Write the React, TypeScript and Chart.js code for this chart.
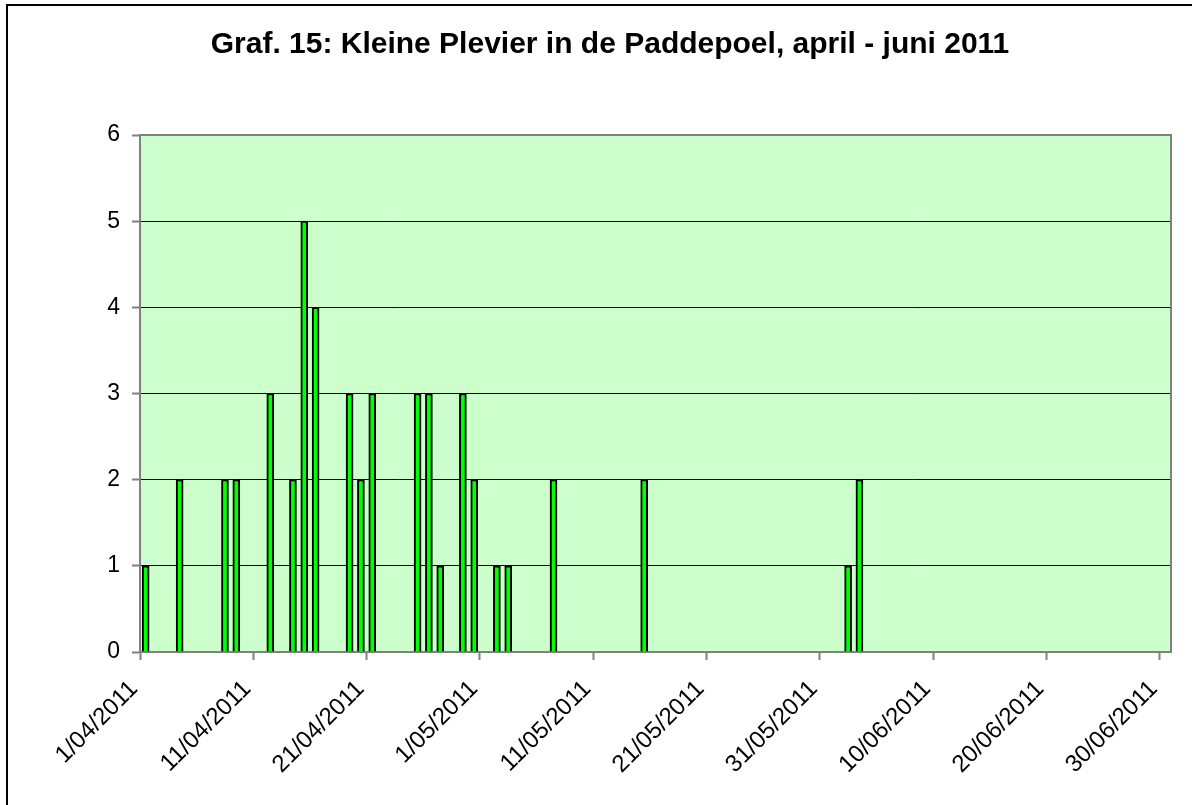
import React, { useEffect, useRef } from 'react';
import { Chart, registerables } from 'chart.js';

Chart.register(...registerables);

const TITLE = 'Graf. 15: Kleine Plevier in de Paddepoel, april - juni 2011';
const AXIS_START = '2011-04-01';
const AXIS_END = '2011-07-01';

const obsDates = [
  '2011-04-01', '2011-04-04', '2011-04-08', '2011-04-09', '2011-04-12',
  '2011-04-14', '2011-04-15', '2011-04-16', '2011-04-19', '2011-04-20',
  '2011-04-21', '2011-04-25', '2011-04-26', '2011-04-27', '2011-04-29',
  '2011-04-30', '2011-05-02', '2011-05-03', '2011-05-07', '2011-05-15',
  '2011-06-02', '2011-06-03',
];
const counts = [1, 2, 2, 2, 3, 2, 5, 4, 3, 2, 3, 3, 3, 1, 3, 2, 1, 1, 2, 2, 1, 2];

const tickLabels = [
  '1/04/2011', '11/04/2011', '21/04/2011', '1/05/2011', '11/05/2011',
  '21/05/2011', '31/05/2011', '10/06/2011', '20/06/2011', '30/06/2011',
];
const yTicks = [0, 1, 2, 3, 4, 5, 6];

const FONT = '"Liberation Sans", Arial, sans-serif';
const DAY = 86400000;

function isoToUTC(s: string) {
  const [y, m, d] = s.split('-').map(Number);
  return Date.UTC(y, m - 1, d);
}
function labelToUTC(s: string) {
  const [d, m, y] = s.split('/').map(Number);
  return Date.UTC(y, m - 1, d);
}
const t0 = isoToUTC(AXIS_START);
const dayOfIso = (s: string) => Math.round((isoToUTC(s) - t0) / DAY);
const dayOfLabel = (s: string) => Math.round((labelToUTC(s) - t0) / DAY);

const bgPlugin = {
  id: 'plotBg',
  beforeDraw(chart: any) {
    const { ctx, chartArea: a } = chart;
    ctx.save();
    ctx.fillStyle = '#CCFFCC';
    ctx.fillRect(a.left, a.top, a.right - a.left, a.bottom - a.top);
    ctx.restore();
  },
  beforeDatasetsDraw(chart: any) {
    const { ctx, chartArea: a } = chart;
    ctx.save();
    ctx.strokeStyle = '#808080';
    ctx.lineWidth = 2;
    ctx.beginPath();
    ctx.moveTo(a.left, a.top);
    ctx.lineTo(a.right, a.top);
    ctx.lineTo(a.right, a.bottom);
    ctx.stroke();
    ctx.restore();
  },
  afterDraw(chart: any) {
    const { ctx } = chart;
    ctx.save();
    ctx.fillStyle = '#000';
    ctx.font = `bold 30px ${FONT}`;
    ctx.textAlign = 'center';
    ctx.textBaseline = 'alphabetic';
    ctx.fillText(TITLE, 610, 53);
    ctx.restore();
  },
};

export default function App() {
  const ref = useRef<HTMLCanvasElement | null>(null);

  useEffect(() => {
    if (!ref.current) return;
    Chart.defaults.font.family = FONT;
    Chart.defaults.font.size = 22;
    Chart.defaults.color = '#000';
    const points = obsDates.map((d, i) => ({ x: dayOfIso(d) + 0.5, y: counts[i] }));
    const chart = new Chart(ref.current, {
      type: 'bar',
      data: {
        datasets: [
          {
            data: points,
            backgroundColor: '#00FF00',
            borderColor: '#000000',
            borderWidth: 2,
            borderSkipped: 'start',
            barThickness: 7,
          },
        ],
      },
      options: {
        responsive: false,
        animation: false,
        layout: { autoPadding: false, padding: { left: 0, top: 135, right: 21, bottom: 0 } },
        plugins: { legend: { display: false }, tooltip: { enabled: false }, title: { display: false } },
        scales: {
          x: {
            type: 'linear',
            offset: false,
            min: 0,
            max: dayOfIso(AXIS_END),
            afterBuildTicks: (scale: any) => {
              scale.ticks = tickLabels.map((l) => ({ value: dayOfLabel(l) }));
            },
            afterFit: (scale: any) => {
              scale.height = 805 - 652;
              scale.paddingLeft = 0;
              scale.paddingRight = 0;
            },
            grid: {
              offset: false,
              drawOnChartArea: false,
              drawTicks: true,
              tickLength: 8,
              tickColor: '#808080',
              tickWidth: 2,
            },
            border: { color: '#808080', width: 2 },
            ticks: {
              autoSkip: false,
              minRotation: 45,
              maxRotation: 45,
              padding: 15,
              labelOffset: -6,
              color: '#000',
              font: { family: FONT, size: 24 },
              callback: (_v: any, i: number) => tickLabels[i],
            },
          },
          y: {
            min: yTicks[0],
            max: yTicks[yTicks.length - 1],
            afterBuildTicks: (scale: any) => {
              scale.ticks = yTicks.map((v) => ({ value: v }));
            },
            afterFit: (scale: any) => {
              scale.width = 140;
              scale.paddingTop = 0;
              scale.paddingBottom = 0;
            },
            grid: {
              color: '#000000',
              lineWidth: 1,
              drawTicks: true,
              tickLength: 8,
              tickColor: '#808080',
              tickWidth: 2,
            },
            border: { color: '#808080', width: 2 },
            ticks: {
              padding: 12,
              color: '#000',
              font: { family: FONT, size: 23 },
              callback: (v: any) => String(v),
            },
          },
        },
      },
      plugins: [bgPlugin],
    } as any);
    return () => chart.destroy();
  }, []);

  return (
    <div style={{ position: 'absolute', left: 0, top: 0, width: 1192, height: 805, background: '#fff', overflow: 'hidden' }}>
      <canvas ref={ref} width={1192} height={805} style={{ position: 'absolute', left: 0, top: 0 }} />
      <div
        style={{
          position: 'absolute',
          left: 6,
          top: 4,
          width: 1200,
          height: 820,
          borderLeft: '2px solid #000',
          borderTop: '2px solid #000',
          pointerEvents: 'none',
        }}
      />
    </div>
  );
}
